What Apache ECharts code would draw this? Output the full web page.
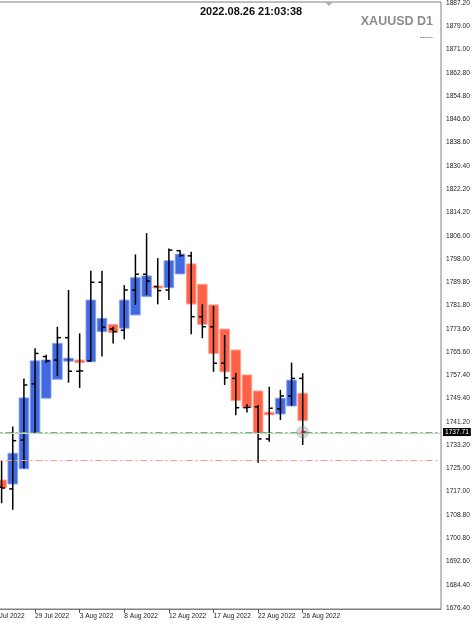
<!DOCTYPE html>
<html><head><meta charset="utf-8">
<script src="https://cdn.jsdelivr.net/npm/echarts@6/dist/echarts.min.js"></script>
<style>html,body{margin:0;padding:0;background:#fff}#c{width:474px;height:625px}</style>
</head><body><div id="c"></div>
<script>
// Daily bars XAUUSD D1 (26 Jul 2022 .. 26 Aug 2022, incl. Sunday bars)
const barDates = ['26 Jul','27 Jul','28 Jul','29 Jul','31 Jul','1 Aug','2 Aug','3 Aug','4 Aug','5 Aug','7 Aug','8 Aug','9 Aug','10 Aug','11 Aug','12 Aug','14 Aug','15 Aug','16 Aug','17 Aug','18 Aug','19 Aug','21 Aug','22 Aug','23 Aug','24 Aug','25 Aug','26 Aug'];
const openP  = [1718.5,1717.9,1734.9,1754.5,1764.0,1762.8,1770.6,1758.9,1762.5,1789.9,1773.6,1773.2,1787.2,1792.7,1788.4,1787.2,1800.9,1799.1,1777.9,1774.4,1761.7,1756.4,1746.2,1746.5,1735.3,1745.8,1750.3,1756.4];
const highP  = [1727.7,1739.6,1756.4,1766.9,1764.6,1774.4,1787.2,1772.1,1793.9,1793.9,1774.4,1788.9,1799.6,1807.0,1798.3,1801.7,1801.1,1800.5,1782.2,1781.7,1771.5,1758.3,1747.5,1747.1,1753.5,1752.4,1761.9,1758.2];
const lowP   = [1712.9,1710.6,1725.1,1737.3,1761.8,1757.2,1754.9,1753.1,1762.2,1764.0,1768.6,1770.0,1782.0,1785.5,1782.2,1783.7,1798.8,1771.8,1770.4,1758.7,1754.1,1743.6,1744.5,1727.0,1734.3,1741.9,1746.8,1733.2];
const closeP = [1718.2,1734.7,1754.1,1765.1,1762.5,1770.6,1758.9,1759.0,1789.9,1774.2,1772.7,1787.2,1792.7,1790.3,1787.0,1801.1,1799.2,1777.9,1774.4,1761.7,1756.6,1746.2,1746.3,1735.3,1746.0,1750.3,1756.4,1737.71];
// Heiken Ashi bodies
const haOpen  = [1721.0,1719.6,1724.9,1737.3,1749.5,1756.1,1762.4,1762.8,1762.2,1772.7,1775.2,1773.9,1778.5,1784.9,1788.6,1788.0,1792.8,1796.3,1789.2,1782.0,1773.6,1766.3,1757.6,1752.0,1744.6,1744.0,1746.8,1751.2];
const haClose = [1718.4,1730.3,1749.6,1762.5,1762.8,1768.6,1763.4,1761.9,1783.7,1777.3,1772.4,1783.7,1791.5,1792.1,1787.9,1797.4,1799.7,1782.3,1775.2,1765.1,1758.7,1748.7,1746.3,1737.3,1743.7,1749.5,1755.8,1741.7];
// axis labels
const dateTickLabels = ['25 Jul 2022','29 Jul 2022','3 Aug 2022','8 Aug 2022','12 Aug 2022','17 Aug 2022','22 Aug 2022','26 Aug 2022'];
const priceTicks = [1887.20,1879.00,1871.00,1862.80,1854.80,1846.60,1838.60,1830.40,1822.20,1814.20,1806.00,1798.00,1789.80,1781.80,1773.60,1765.60,1757.40,1749.40,1741.20,1733.20,1725.00,1717.00,1708.80,1700.80,1692.60,1684.40,1676.40];
const bidPrice = 1737.71;
const greyLevel = 1737.4;
const orangeLevel = 1728.0;
const titleTime = '2022.08.26 21:03:38';
const symbolText = 'XAUUSD D1';

const BLUE = '#4169e1', RED = '#ff6347';
const slot = i => i + 1; // slot 0 = 25 Jul (off-screen)
const labelSlots = dateTickLabels.map((_, k) => k * 4);

const haData = haOpen.map((o, i) => [slot(i), o, haClose[i]]);
const ohlcData = openP.map((o, i) => [slot(i), o, highP[i], lowP[i], closeP[i]]);
const lastPt = [slot(closeP.length - 1), closeP[closeP.length - 1]];

const chart = echarts.init(document.getElementById('c'), null, {renderer: 'canvas'});
const FONT = 'Liberation Sans';
chart.setOption({
  animation: false,
  backgroundColor: '#fff',
  grid: {left: -9.55, right: 33, top: 2, bottom: 16, outerBoundsMode: 'none', containLabel: false,
    show: true, borderColor: '#808080', borderWidth: 1, backgroundColor: 'transparent'},
  xAxis: {
    type: 'value', min: 0, max: 40.4,
    axisLine: {show: true, lineStyle: {color: '#808080', width: 1}},
    splitLine: {show: false},
    axisTick: {show: true, customValues: labelSlots, length: 4, lineStyle: {color: '#555'}},
    axisLabel: {customValues: labelSlots, formatter: v => dateTickLabels[Math.round(v / 4)] || '',
      align: 'left', margin: 4, fontSize: 6.6, color: '#222', fontFamily: FONT, hideOverlap: false}
  },
  yAxis: {
    type: 'value', position: 'right', min: 1676.05, max: 1887.55,
    axisLine: {show: true, lineStyle: {color: '#808080', width: 1}},
    splitLine: {show: false},
    axisTick: {show: true, customValues: priceTicks, length: 3, lineStyle: {color: '#555'}},
    axisLabel: {customValues: priceTicks, formatter: v => v.toFixed(2), margin: 5,
      fontSize: 6.6, color: '#222', fontFamily: FONT, hideOverlap: false}
  },
  graphic: [
    {type: 'text', left: 200, top: 6, style: {text: titleTime, font: 'bold 11px Liberation Sans', fill: '#111'}},
    {type: 'text', right: 41, top: 15, style: {text: symbolText, font: 'bold 12.5px Liberation Sans', fill: '#8c8c8c'}},
    {type: 'text', right: 41, top: 33, style: {text: '-----', font: 'bold 8px Liberation Sans', fill: '#8a8a8a'}},
    {type: 'polygon', shape: {points: [[325, 2], [333, 2], [329, 6]]}, style: {fill: '#b0b0b0'}}
  ],
  series: [
    {
      type: 'custom', name: 'HA', data: haData, clip: true,
      encode: {x: 0, y: [1, 2]},
      renderItem: (params, api) => {
        const x = api.value(0), o = api.value(1), c = api.value(2);
        const p1 = api.coord([x, o]), p2 = api.coord([x, c]);
        const w = api.size([1, 0])[0] * 0.86;
        const up = c >= o;
        const y0 = Math.min(p1[1], p2[1]);
        const h = Math.max(Math.abs(p1[1] - p2[1]), 1.5);
        return {type: 'rect', shape: {x: p1[0] - w / 2, y: y0, width: w, height: h},
          style: {fill: up ? BLUE : RED, stroke: up ? 'rgba(130,160,240,0.9)' : 'rgba(255,160,140,0.9)', lineWidth: 1}};
      },
      markLine: {
        silent: true, symbol: 'none', animation: false,
        data: [
          {yAxis: greyLevel, lineStyle: {color: '#cfcfcf', width: 1, type: 'solid'}, label: {show: false}},
          {yAxis: orangeLevel, lineStyle: {color: '#ff9a7a', width: 1, type: [7, 3, 2, 3]}, label: {show: false}},
          {yAxis: bidPrice, lineStyle: {color: '#5fc15f', width: 1, type: [7, 3, 2, 3]},
            label: {show: true, position: 'end', distance: 2, formatter: bidPrice.toFixed(2), color: '#fff',
              backgroundColor: '#000', padding: [1, 2, 0, 2], fontSize: 6.6, fontFamily: FONT}}
        ]
      }
    },
    {
      type: 'custom', name: 'OHLC', data: ohlcData, clip: true,
      encode: {x: 0, y: [1, 2, 3, 4]},
      renderItem: (params, api) => {
        const x = api.value(0);
        const po = api.coord([x, api.value(1)]), ph = api.coord([x, api.value(2)]);
        const pl = api.coord([x, api.value(3)]), pc = api.coord([x, api.value(4)]);
        const t = 3.5;
        const st = {stroke: '#000', lineWidth: 1.5};
        return {type: 'group', children: [
          {type: 'line', shape: {x1: ph[0], y1: ph[1], x2: pl[0], y2: pl[1]}, style: st},
          {type: 'line', shape: {x1: po[0] - t, y1: po[1], x2: po[0], y2: po[1]}, style: st},
          {type: 'line', shape: {x1: pc[0], y1: pc[1], x2: pc[0] + t, y2: pc[1]}, style: st}
        ]};
      }
    },
    {type: 'scatter', data: [lastPt], symbol: 'circle', symbolSize: 13, silent: true,
      itemStyle: {color: 'rgba(140,140,140,0.45)'}, z: 5},
    {type: 'scatter', data: [lastPt], symbol: 'circle', symbolSize: 3, silent: true,
      itemStyle: {color: '#e00000'}, z: 6}
  ]
});
</script></body></html>
